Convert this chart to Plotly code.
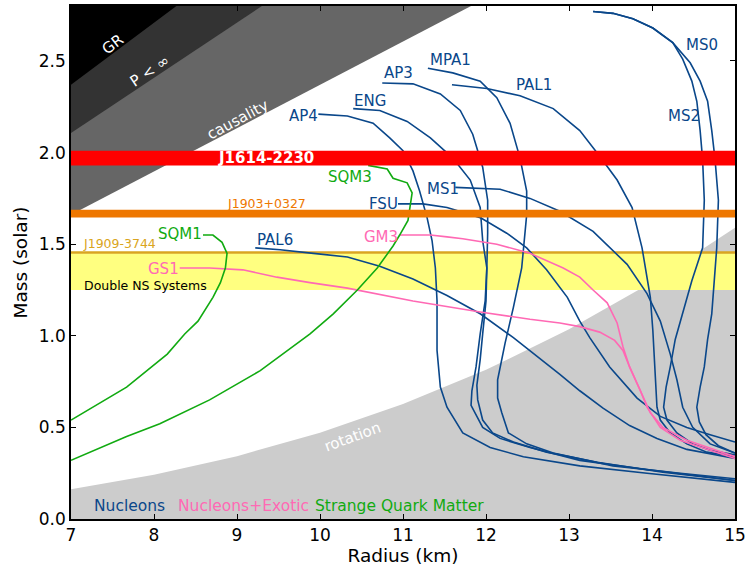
import plotly.graph_objects as go

# ---- Mass-radius relations: radius (km), gravitational mass (solar) ----
AP4_R = [9.98, 10.33, 10.64, 10.84, 11.00, 11.12, 11.20, 11.29, 11.35, 11.39, 11.41, 11.41, 11.45, 11.53, 11.72, 12.05, 12.45, 13.13, 13.94, 15.0]
AP4_M = [2.21, 2.20, 2.16, 2.08, 2.01, 1.90, 1.79, 1.645, 1.52, 1.37, 1.19, 0.92, 0.72, 0.61, 0.47, 0.39, 0.34, 0.29, 0.25, 0.20]

ENG_R = [10.40, 10.72, 11.05, 11.33, 11.60, 11.81, 11.93, 11.96, 12.01, 11.99, 11.93, 11.88, 11.83, 11.82, 11.89, 11.96, 12.17, 12.53, 13.13, 13.94, 15.0]
ENG_M = [2.24, 2.23, 2.17, 2.08, 1.97, 1.85, 1.70, 1.52, 1.37, 1.19, 1.01, 0.83, 0.70, 0.62, 0.56, 0.50, 0.44, 0.39, 0.32, 0.27, 0.21]

AP3_R = [10.75, 11.12, 11.45, 11.69, 11.84, 11.96, 12.02, 12.02, 12.01, 12.00, 11.96, 11.93, 11.89, 11.90, 11.96, 12.08, 12.33, 12.73, 13.34, 14.13, 15.0]
AP3_M = [2.38, 2.375, 2.32, 2.23, 2.10, 1.92, 1.74, 1.56, 1.37, 1.19, 1.01, 0.87, 0.73, 0.65, 0.54, 0.47, 0.42, 0.365, 0.31, 0.255, 0.21]

MPA1_R = [11.30, 11.60, 11.93, 12.13, 12.29, 12.41, 12.49, 12.49, 12.43, 12.33, 12.23, 12.14, 12.14, 12.19, 12.27, 12.49, 12.81, 13.53, 14.34, 15.0]
MPA1_M = [2.46, 2.435, 2.39, 2.30, 2.16, 1.97, 1.79, 1.66, 1.37, 1.155, 0.96, 0.76, 0.66, 0.58, 0.47, 0.41, 0.36, 0.29, 0.25, 0.22]

PAL1_R = [11.59, 12.01, 12.41, 12.81, 13.13, 13.37, 13.58, 13.76, 13.88, 13.98, 14.01, 14.04, 14.06, 14.10, 14.22, 14.42, 14.66, 15.0]
PAL1_M = [2.37, 2.35, 2.31, 2.24, 2.12, 1.98, 1.85, 1.70, 1.48, 1.21, 1.03, 0.76, 0.61, 0.54, 0.47, 0.41, 0.365, 0.34]

MS1_R = [11.63, 12.17, 12.53, 12.89, 13.29, 13.70, 13.94, 14.10, 14.22, 14.30, 14.37, 14.49, 14.70, 15.0]
MS1_M = [1.81, 1.80, 1.75, 1.68, 1.57, 1.39, 1.23, 1.08, 0.90, 0.76, 0.61, 0.50, 0.41, 0.36]

FSU_R = [10.94, 11.24, 11.53, 11.93, 12.25, 12.49, 12.73, 12.98, 13.13, 13.25, 13.49, 13.82, 14.10, 14.42, 14.70, 15.0]
FSU_M = [1.72, 1.72, 1.70, 1.645, 1.56, 1.48, 1.36, 1.21, 1.08, 0.99, 0.83, 0.66, 0.56, 0.50, 0.46, 0.42]

PAL6_R = [9.22, 9.52, 9.92, 10.33, 10.72, 11.12, 11.53, 11.93, 12.33, 12.73, 12.89, 13.13, 13.41, 13.73, 14.06, 14.42, 15.0]
PAL6_M = [1.48, 1.47, 1.45, 1.43, 1.38, 1.31, 1.22, 1.12, 0.99, 0.85, 0.79, 0.70, 0.605, 0.51, 0.44, 0.38, 0.33]

MS0_R = [13.29, 13.53, 13.77, 14.01, 14.25, 14.46, 14.58, 14.67, 14.72, 14.76, 14.80, 14.78, 14.75, 14.72, 14.67, 14.63, 14.58, 14.54, 14.57, 14.65, 14.80, 15.0]
MS0_M = [2.77, 2.76, 2.73, 2.68, 2.60, 2.49, 2.39, 2.28, 2.12, 1.96, 1.74, 1.48, 1.30, 1.12, 0.98, 0.83, 0.72, 0.61, 0.53, 0.46, 0.40, 0.36]

MS2_R = [13.29, 13.53, 13.77, 14.01, 14.25, 14.37, 14.48, 14.54, 14.58, 14.61, 14.63, 14.61, 14.48, 14.37, 14.28, 14.22, 14.17, 14.14, 14.18, 14.30, 14.49, 14.70, 15.0]
MS2_M = [2.77, 2.76, 2.73, 2.68, 2.60, 2.51, 2.39, 2.28, 2.12, 1.96, 1.74, 1.48, 1.30, 1.12, 0.98, 0.83, 0.72, 0.61, 0.54, 0.47, 0.41, 0.375, 0.35]

GM3_R = [10.96, 11.33, 11.53, 11.72, 12.13, 12.53, 12.93, 13.13, 13.29, 13.46, 13.58, 13.65, 13.73, 13.86, 13.94, 14.10, 14.34, 14.61, 15.0]
GM3_M = [1.55, 1.55, 1.54, 1.53, 1.50, 1.45, 1.37, 1.32, 1.25, 1.18, 1.07, 0.94, 0.83, 0.70, 0.61, 0.50, 0.43, 0.39, 0.33]

GS1_R = [8.31, 8.67, 9.07, 9.48, 9.88, 10.33, 11.12, 11.93, 12.53, 12.89, 13.13, 13.37, 13.55, 13.65, 13.73, 13.86, 13.98, 14.13, 14.42, 15.0]
GS1_M = [1.37, 1.37, 1.36, 1.32, 1.29, 1.26, 1.19, 1.13, 1.09, 1.07, 1.05, 1.02, 0.975, 0.92, 0.83, 0.70, 0.58, 0.50, 0.43, 0.34]

SQM1_R = [8.59, 8.71, 8.82, 8.88, 8.86, 8.80, 8.71, 8.53, 8.37, 8.16, 7.67, 7.0]
SQM1_M = [1.55, 1.55, 1.51, 1.45, 1.37, 1.29, 1.21, 1.08, 1.01, 0.90, 0.72, 0.54]

SQM3_R = [10.58, 10.72, 10.81, 10.88, 11.05, 11.11, 11.08, 11.06, 10.96, 10.88, 10.69, 10.45, 10.16, 9.88, 9.28, 8.67, 8.07, 7.67, 7.0]
SQM3_M = [1.93, 1.92, 1.91, 1.86, 1.835, 1.78, 1.70, 1.63, 1.55, 1.49, 1.37, 1.25, 1.12, 1.01, 0.81, 0.65, 0.52, 0.45, 0.32]

# ---- Excluded regions ----
GR_R = [7.0, 8.27]          # event horizon limit
GR_M = [2.37, 2.80]
PINF_R = [7.0, 9.30]        # finite central pressure
PINF_M = [2.107, 2.80]
CAUS_R = [7.0, 11.82]       # causality
CAUS_M = [1.66, 2.80]
ROT_R = [7, 8, 9, 10, 11, 12, 13, 14, 15]   # fastest known spin
ROT_M = [0.162, 0.241, 0.343, 0.471, 0.627, 0.814, 1.035, 1.292, 1.59]

# ---- Measured pulsar masses ----
PSR_NAMES = ["J1614-2230", "J1903+0327"]
PSR_MASS = [1.97, 1.667]
PSR_ERR = [0.04, 0.021]
J1909_MASS = 1.455
DNS_RANGE = [1.25, 1.45]

M_TOP = 2.80
R_MIN, R_MAX = 7.0, 15.0

NAVY = "#0a478a"
PINK = "#ff69b4"
GREEN = "#11aa11"
ORANGE = "#ee7700"
GOLD = "#daa520"
FONT = "DejaVu Sans"

fig = go.Figure()


def region(xs, ys, color):
    fig.add_trace(go.Scatter(x=xs, y=ys, mode="lines", fill="toself",
                             fillcolor=color, line=dict(width=0),
                             hoverinfo="skip", showlegend=False))


# rotation-excluded area at the bottom
region(ROT_R + [R_MAX, R_MIN], ROT_M + [0, 0], "#cccccc")
# causality / finite pressure / GR wedges in the upper left
region(CAUS_R + [R_MIN], CAUS_M + [M_TOP], "#666666")
region(PINF_R + [R_MIN], PINF_M + [M_TOP], "#333333")
region(GR_R + [R_MIN], GR_M + [M_TOP], "#000000")

# double neutron star mass range
region([R_MIN, R_MAX, R_MAX, R_MIN],
       [DNS_RANGE[0], DNS_RANGE[0], DNS_RANGE[1], DNS_RANGE[1]], "#ffff80")
fig.add_trace(go.Scatter(x=[R_MIN, R_MAX], y=[J1909_MASS, J1909_MASS], mode="lines",
                         line=dict(color=GOLD, width=2.5), hoverinfo="skip",
                         showlegend=False))

curves = [
    (AP4_R, AP4_M, NAVY), (ENG_R, ENG_M, NAVY), (AP3_R, AP3_M, NAVY),
    (MPA1_R, MPA1_M, NAVY), (PAL1_R, PAL1_M, NAVY), (MS1_R, MS1_M, NAVY),
    (FSU_R, FSU_M, NAVY), (PAL6_R, PAL6_M, NAVY), (MS0_R, MS0_M, NAVY),
    (MS2_R, MS2_M, NAVY),
    (GM3_R, GM3_M, PINK), (GS1_R, GS1_M, PINK),
    (SQM1_R, SQM1_M, GREEN), (SQM3_R, SQM3_M, GREEN),
]
for xs, ys, c in curves:
    fig.add_trace(go.Scatter(x=xs, y=ys, mode="lines",
                             line=dict(color=c, width=1.6),
                             hoverinfo="skip", showlegend=False))

# pulsar mass bands drawn above the curves
for m, e, c in zip(PSR_MASS, PSR_ERR, ["#ff0000", ORANGE]):
    fig.add_shape(type="rect", xref="paper", x0=0, x1=1, yref="y",
                  y0=m - e, y1=m + e, fillcolor=c, line=dict(width=0),
                  layer="above")

annotations = []


def label(text, x, y, color, size=15, angle=0, xanchor="center", bold=False):
    if bold:
        text = "<b>" + text + "</b>"
    annotations.append(dict(x=x, y=y, xref="x", yref="y", text=text,
                            showarrow=False, textangle=angle,
                            xanchor=xanchor, yanchor="middle",
                            font=dict(family=FONT, size=size, color=color)))


# equation-of-state names
label("AP4", 10.00, 2.20, NAVY, xanchor="right")
label("ENG", 10.60, 2.28, NAVY)
label("AP3", 10.94, 2.435, NAVY)
label("MPA1", 11.57, 2.505, NAVY)
label("PAL1", 12.58, 2.37, NAVY)
label("MS0", 14.60, 2.587, NAVY)
label("MS2", 14.39, 2.20, NAVY)
label("MS1", 11.48, 1.803, NAVY)
label("FSU", 10.76, 1.721, NAVY)
label("PAL6", 9.46, 1.525, NAVY)
label("GM3", 10.73, 1.541, PINK)
label("GS1", 8.11, 1.362, PINK)
label("SQM1", 8.31, 1.558, GREEN)
label("SQM3", 10.36, 1.868, GREEN)

# region names
label("GR", 7.51, 2.59, "white", size=15, angle=-37)
label("P < ∞", 7.95, 2.445, "white", size=15, angle=-34)
label("causality", 9.0, 2.18, "white", size=15, angle=-28)
label("rotation", 10.39, 0.45, "white", size=15, angle=-20)

# pulsar labels
label(PSR_NAMES[0], 9.35, PSR_MASS[0], "white", size=15, bold=True)
label(PSR_NAMES[1], 9.36, 1.721, ORANGE, size=12.5)
label("J1909-3744", 7.58, 1.503, GOLD, size=12.5)
label("Double NS Systems", 7.90, 1.274, "black", size=12.5)

# class key along the bottom
label("Nucleons", 7.25, 0.071, NAVY, size=15.5, xanchor="left")
label("Nucleons+Exotic", 8.265, 0.071, PINK, size=15.5, xanchor="left")
label("Strange Quark Matter", 9.916, 0.071, GREEN, size=15.5, xanchor="left")

axis_common = dict(showgrid=False, zeroline=False, showline=True,
                   linecolor="black", linewidth=1.5, mirror="ticks",
                   ticks="inside", ticklen=5, tickwidth=1, tickcolor="black",
                   automargin=False,
                   tickfont=dict(family=FONT, size=17, color="black"))

fig.update_xaxes(range=[R_MIN, R_MAX], tickvals=list(range(7, 16)),
                 title=dict(text="Radius (km)", standoff=4,
                            font=dict(family=FONT, size=18.5, color="black")),
                 **axis_common)
fig.update_yaxes(range=[0, M_TOP], tickvals=[0, 0.5, 1.0, 1.5, 2.0, 2.5],
                 tickformat=".1f",
                 title=dict(text="Mass (solar)", standoff=6,
                            font=dict(family=FONT, size=18.5, color="black")),
                 **axis_common)

fig.update_layout(width=747, height=570, margin=dict(l=71, r=12, t=6, b=51),
                  paper_bgcolor="white", plot_bgcolor="white",
                  annotations=annotations, showlegend=False,
                  font=dict(family=FONT))

fig.write_html("out.html")
